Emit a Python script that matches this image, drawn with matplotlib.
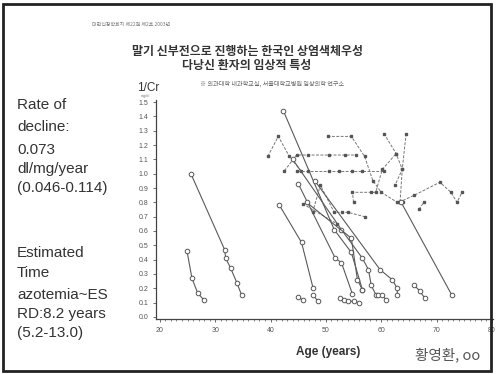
import matplotlib
matplotlib.use("Agg")
import matplotlib.pyplot as plt
from matplotlib.patches import Rectangle

plt.rcParams['font.family'] = ['Liberation Sans', 'Noto Sans CJK KR', 'DejaVu Sans']

# === DATA ===
# patients with progressive decline (open circles, solid lines): (age list, 1/Cr list)
decline_age = [
    [24.9, 25.8, 26.8, 27.9],
    [25.6, 31.7, 31.9, 32.8, 33.9, 34.8],
    [41.6, 45.6, 47.7],
    [44.9, 45.8],
    [47.7, 48.6],
    [42.3, 51.5, 54.6, 56.6],
    [44.0, 52.8, 56.6, 57.7, 58.2, 59.1],
    [45.0, 51.7, 52.8, 54.8],
    [46.5, 54.6, 55.7, 56.6],
    [48.0, 59.8, 62.0, 62.9, 62.9],
    [63.6, 72.8],
    [66.0, 67.0, 67.9],
    [59.5, 60.2, 60.9],
    [52.5, 53.2, 54.0, 55.0, 56.0],
]
decline_icr = [
    [0.46, 0.27, 0.17, 0.12],
    [1.00, 0.47, 0.41, 0.34, 0.24, 0.15],
    [0.78, 0.52, 0.20],
    [0.14, 0.12],
    [0.15, 0.11],
    [1.44, 0.61, 0.45, 0.19],
    [1.10, 0.61, 0.41, 0.33, 0.22, 0.15],
    [0.93, 0.41, 0.38, 0.16],
    [0.80, 0.55, 0.26, 0.19],
    [0.95, 0.33, 0.26, 0.20, 0.15],
    [0.80, 0.15],
    [0.22, 0.18, 0.13],
    [0.15, 0.15, 0.12],
    [0.13, 0.12, 0.11, 0.11, 0.10],
]

# stable patients (small filled markers, dashed lines)
stable_age = [
    [39.5, 41.4, 43.4, 45.5],
    [42.5, 44.7, 46.7, 50.6, 53.5, 55.5],
    [44.7, 46.7, 50.6, 52.4, 54.8, 56.6, 60.5],
    [50.3, 54.6, 57.0, 58.5, 60.0, 62.9, 64.0],
    [60.5, 62.7, 63.8, 63.4],
    [64.5, 63.8, 62.5],
    [63.2, 66.0, 70.6, 72.6, 73.7, 74.6],
    [66.8, 67.7],
    [47.6, 49.0, 51.5, 53.0, 54.0, 57.0],
    [55.0, 54.8, 58.2, 59.0, 60.2, 62.7],
    [45.8, 52.0],
]
stable_icr = [
    [1.12, 1.26, 1.12, 1.02],
    [1.02, 1.13, 1.13, 1.13, 1.13, 1.13],
    [1.02, 1.02, 1.02, 1.02, 1.02, 1.02, 1.02],
    [1.26, 1.26, 1.12, 0.95, 0.87, 0.80, 0.80],
    [1.28, 1.14, 1.03, 0.80],
    [1.28, 1.03, 0.92],
    [0.80, 0.85, 0.94, 0.87, 0.80, 0.87],
    [0.75, 0.80],
    [0.73, 0.92, 0.73, 0.73, 0.73, 0.70],
    [0.80, 0.87, 0.87, 0.87, 1.03, 1.14],
    [0.79, 0.65],
]

x_ticks = [20, 30, 40, 50, 60, 70, 80]
y_ticks = [round(0.1 * i, 1) for i in range(16)]

side_text = [
    ("Rate of", 105), ("decline:", 127),
    ("0.073", 150), ("dl/mg/year", 169), ("(0.046-0.114)", 188),
    ("Estimated", 253), ("Time", 273),
    ("azotemia~ES", 295), ("RD:8.2 years", 314), ("(5.2-13.0)", 333),
]

W, H = 497, 374
fig = plt.figure(figsize=(W / 100, H / 100), dpi=100)
fig.patch.set_facecolor("white")

# slide frame
fig.add_artist(Rectangle((3 / W, 3 / H), 488 / W, 367 / H, transform=fig.transFigure,
                         fill=False, edgecolor="#222222", linewidth=2.0))

ax = fig.add_axes([156 / W, 1 - 319 / H, 337 / W, 219 / H])
for xs, ys in zip(stable_age, stable_icr):
    ax.plot(xs, ys, linestyle=(0, (3, 1.5)), color="#777777", linewidth=0.7,
            marker="s", markersize=1.9, markerfacecolor="#555555",
            markeredgecolor="#555555")
for xs, ys in zip(decline_age, decline_icr):
    ax.plot(xs, ys, linestyle="-", color="#5a5a5a", linewidth=0.8,
            marker="o", markersize=3.3, markerfacecolor="white",
            markeredgecolor="#555555", markeredgewidth=0.7)

ax.set_xlim(19.3, 80.2)
ax.set_ylim(-0.014, 1.514)
ax.set_xticks(x_ticks)
ax.set_xticks(range(20, 81), minor=True)
ax.set_yticks(y_ticks)
ax.set_yticklabels([f"{v:.1f}" for v in y_ticks])
ax.tick_params(axis="both", labelsize=5, colors="#555555", length=2, width=0.6)
ax.tick_params(axis="x", which="minor", length=1.5, width=0.5, colors="#555555")
for s in ["top", "right"]:
    ax.spines[s].set_visible(False)
for s in ["left", "bottom"]:
    ax.spines[s].set_color("#444444")
    ax.spines[s].set_linewidth(0.9)

# header texts
fig.text(131 / W, 1 - 24 / H, "대한신장학회지 제22권 제2호 2003년", fontsize=3.6,
         color="#777777", ha="center", va="center", family=["Noto Sans CJK KR"])
fig.text(247 / W, 1 - 51 / H, "말기 신부전으로 진행하는 한국인 상염색체우성", fontsize=8.6,
         color="#333333", ha="center", va="center", fontweight="bold",
         family=["Noto Sans CJK KR"])
fig.text(247 / W, 1 - 65 / H, "다낭신 환자의 임상적 특성", fontsize=8.6,
         color="#333333", ha="center", va="center", fontweight="bold",
         family=["Noto Sans CJK KR"])
fig.text(272 / W, 1 - 84 / H, "※ 의과대학 내과학교실, 서울대학교병원 임상의학 연구소",
         fontsize=4.4, color="#666666", ha="center", va="center",
         family=["Noto Sans CJK KR"])

fig.text(137 / W, 1 - 88 / H, "1/Cr", fontsize=8.5, color="#333333", ha="left", va="center")
fig.text(141 / W, 1 - 96 / H, "mg/dl", fontsize=2.8, color="#777777", ha="left", va="center")

for txt, py in side_text:
    fig.text(17 / W, 1 - py / H, txt, fontsize=11, color="#333333", ha="left", va="center")

fig.text(328 / W, 1 - 352 / H, "Age (years)", fontsize=8.5, fontweight="bold",
         color="#333333", ha="center", va="center")
fig.text(415 / W, 1 - 355 / H, "황영환, oo", fontsize=10.5, color="#555555",
         ha="left", va="center", family=["Noto Sans CJK KR", "DejaVu Sans"])

fig.savefig("out.png", dpi=100)
